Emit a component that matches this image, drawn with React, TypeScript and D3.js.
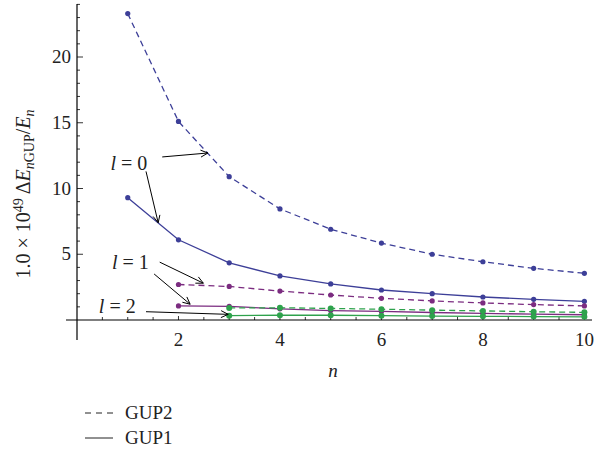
import * as d3 from 'd3'

const nAll = [1, 2, 3, 4, 5, 6, 7, 8, 9, 10]

// l = 0
const gup2L0 = [23.3, 15.1, 10.9, 8.45, 6.9, 5.85, 5.0, 4.43, 3.93, 3.55]
const gup1L0 = [9.3, 6.1, 4.35, 3.35, 2.74, 2.28, 2.0, 1.75, 1.57, 1.42]
// l = 1 (from n = 2)
const gup2L1 = [2.7, 2.55, 2.2, 1.9, 1.65, 1.45, 1.3, 1.17, 1.07]
const gup1L1 = [1.07, 1.04, 0.85, 0.72, 0.65, 0.57, 0.5, 0.45, 0.4]
// l = 2 (from n = 3)
const gup2L2 = [0.92, 0.93, 0.88, 0.82, 0.75, 0.69, 0.63, 0.58]
const gup1L2 = [0.33, 0.36, 0.36, 0.33, 0.3, 0.28, 0.26, 0.24]

const xTicks = [2, 4, 6, 8, 10]
const yTicks = [5, 10, 15, 20]

const BLUE = '#3d3f98'
const PURPLE = '#7b2c80'
const GREEN = '#2ea24c'

const series = [
  { vals: gup2L0, start: 1, color: BLUE, dash: '6,4' },
  { vals: gup1L0, start: 1, color: BLUE, dash: null },
  { vals: gup2L1, start: 2, color: PURPLE, dash: '6,4' },
  { vals: gup1L1, start: 2, color: PURPLE, dash: null },
  { vals: gup2L2, start: 3, color: GREEN, dash: '6,4' },
  { vals: gup1L2, start: 3, color: GREEN, dash: null },
]

const x = d3.scaleLinear().domain([0, 10.15]).range([77, 592])
const y = d3.scaleLinear().domain([0, 24]).range([320, 4.4])

const serif = '"Liberation Serif", "DejaVu Serif", serif'

// arrows in data space
const arrows = [
  { from: [1.68, 12.4], to: [2.58, 12.7] },
  { from: [1.36, 11.3], to: [1.6, 7.4] },
  { from: [1.63, 4.4], to: [2.49, 2.8] },
  { from: [1.52, 3.5], to: [2.23, 1.2] },
  { from: [1.36, 0.63], to: [2.98, 0.43] },
]

const labels = [
  { text: '0', at: [0.66, 11.4] },
  { text: '1', at: [0.69, 3.9] },
  { text: '2', at: [0.43, 0.5] },
]

const App = () => {
  const line = d3.line<number>()
  const minorX = d3.range(0.5, 10.01, 0.5)
  const minorY = d3.range(1, 24.01, 1)

  const arrowHead = (a: { from: number[]; to: number[] }) => {
    const x1 = x(a.from[0]), y1 = y(a.from[1])
    const x2 = x(a.to[0]), y2 = y(a.to[1])
    const ang = Math.atan2(y2 - y1, x2 - x1)
    const len = 8
    const spread = 0.45
    const p1 = [x2 - len * Math.cos(ang - spread), y2 - len * Math.sin(ang - spread)]
    const p2 = [x2 - len * Math.cos(ang + spread), y2 - len * Math.sin(ang + spread)]
    return `M${p1[0]},${p1[1]}L${x2},${y2}L${p2[0]},${p2[1]}`
  }

  return (
    <svg width={596} height={456} style={{ position: 'absolute', left: 0, top: 0, background: '#fff' }}>
      {/* axes */}
      <line x1={66} x2={592} y1={y(0)} y2={y(0)} stroke="#000" strokeWidth={1.2} />
      <line x1={x(0)} x2={x(0)} y1={4} y2={340} stroke="#000" strokeWidth={1.2} />
      {minorX.map(t => (
        <line key={'mx' + t} x1={x(t)} x2={x(t)} y1={y(0)} y2={y(0) - (t % 2 === 0 ? 4 : 3)} stroke="#000" strokeWidth={0.8} />
      ))}
      {minorY.map(t => (
        <line key={'my' + t} x1={x(0)} x2={x(0) + (t % 5 === 0 ? 6 : 3)} y1={y(t)} y2={y(t)} stroke="#000" strokeWidth={0.8} />
      ))}
      {xTicks.map(t => (
        <text key={'xt' + t} x={x(t)} y={346} textAnchor="middle" fontFamily={serif} fontSize={19} fill="#222">{t}</text>
      ))}
      {yTicks.map(t => (
        <text key={'yt' + t} x={71} y={y(t) + 6} textAnchor="end" fontFamily={serif} fontSize={19} fill="#222">{t}</text>
      ))}
      <text x={333} y={377} textAnchor="middle" fontFamily={serif} fontSize={19} fontStyle="italic" fill="#222">n</text>
      <text transform={`translate(30,194) rotate(-90)`} textAnchor="middle" fontFamily={serif} fontSize={20} fill="#222">
        1.0 × 10<tspan dy={-7} fontSize={14}>49</tspan>
        <tspan dy={7}> Δ</tspan><tspan fontStyle="italic">E</tspan>
        <tspan dy={4} fontSize={14} fontStyle="italic">n</tspan><tspan fontSize={14}>GUP</tspan>
        <tspan dy={-4}>/</tspan><tspan fontStyle="italic">E</tspan>
        <tspan dy={4} fontSize={14} fontStyle="italic">n</tspan>
      </text>

      {/* series */}
      {series.map((s, i) => {
        const pts: [number, number][] = s.vals.map((v, j) => [x(nAll[j + s.start - 1]), y(v)])
        return (
          <g key={'s' + i}>
            <path d={line(pts) ?? ''} fill="none" stroke={s.color} strokeWidth={1.3} strokeDasharray={s.dash ?? undefined} />
            {pts.map((p, j) => (
              <circle key={j} cx={p[0]} cy={p[1]} r={s.color === GREEN ? 3 : 2.6} fill={s.color} />
            ))}
          </g>
        )
      })}

      {/* annotations */}
      {arrows.map((a, i) => (
        <g key={'a' + i} stroke="#000" strokeWidth={1} fill="none">
          <line x1={x(a.from[0])} y1={y(a.from[1])} x2={x(a.to[0])} y2={y(a.to[1])} />
          <path d={arrowHead(a)} />
        </g>
      ))}
      {labels.map(l => (
        <text key={'l' + l.text} x={x(l.at[0])} y={y(l.at[1])} fontFamily={serif} fontSize={20} fill="#222">
          <tspan fontStyle="italic">l</tspan> = {l.text}
        </text>
      ))}

      {/* legend */}
      <line x1={85} x2={113} y1={413} y2={413} stroke="#222" strokeWidth={1} strokeDasharray="6,5" />
      <text x={125} y={419} fontFamily={serif} fontSize={19} fill="#222">GUP2</text>
      <line x1={85} x2={113} y1={438} y2={438} stroke="#222" strokeWidth={1} />
      <text x={125} y={444} fontFamily={serif} fontSize={19} fill="#222">GUP1</text>
    </svg>
  )
}

export default App
